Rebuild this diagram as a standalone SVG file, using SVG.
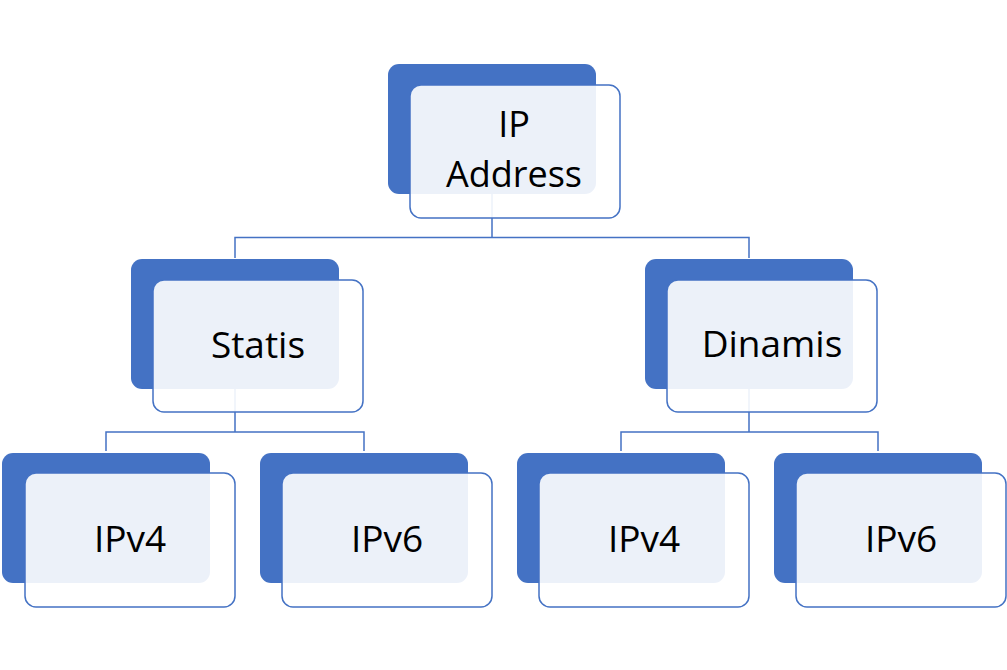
<svg xmlns="http://www.w3.org/2000/svg" width="1007" height="670" viewBox="0 0 1007 670">
<style>
.back{fill:#4472C4;}
.front{fill:#FFFFFF;fill-opacity:0.9;stroke:#4472C4;stroke-width:1.5;}
.lbl{font-family:"Open Sans","Liberation Sans",sans-serif;font-size:37px;fill:#000;text-anchor:middle;}
.lbl2{font-family:"Open Sans","Liberation Sans",sans-serif;font-size:36px;fill:#000;text-anchor:middle;}
.conn{fill:none;stroke:#4472C4;stroke-width:1.5;}
</style>
<rect width="1007" height="670" fill="#FFFFFF"/>
<g id="connectors">
<path class="conn" d="M492,194 V237.5 M235,258 V237.5 H749 V258"/>
<path class="conn" d="M235,388 V432 M106,451 V432 H364 V451"/>
<path class="conn" d="M749,388 V432 M621,451 V432 H878 V451"/>
</g>
<g id="node-ip-address">
<rect class="back" x="388" y="64" width="208" height="130" rx="11"/>
<rect class="front" x="410" y="85" width="210" height="133" rx="11"/>
<text class="lbl2" x="514" y="137">IP</text>
<text class="lbl2" x="514" y="187">Address</text>
</g>
<g id="node-statis">
<rect class="back" x="131" y="259" width="208" height="130" rx="11"/>
<rect class="front" x="153" y="280" width="210" height="132" rx="11"/>
<text class="lbl" x="258" y="358">Statis</text>
</g>
<g id="node-dinamis">
<rect class="back" x="645" y="259" width="208" height="130" rx="11"/>
<rect class="front" x="667" y="280" width="210" height="132" rx="11"/>
<text class="lbl" x="772" y="357">Dinamis</text>
</g>
<g id="node-statis-ipv4">
<rect class="back" x="2" y="453" width="208" height="130" rx="11"/>
<rect class="front" x="25" y="473" width="210" height="134" rx="11"/>
<text class="lbl" x="130" y="552">IPv4</text>
</g>
<g id="node-statis-ipv6">
<rect class="back" x="260" y="453" width="208" height="130" rx="11"/>
<rect class="front" x="282" y="473" width="210" height="134" rx="11"/>
<text class="lbl" x="387" y="552">IPv6</text>
</g>
<g id="node-dinamis-ipv4">
<rect class="back" x="517" y="453" width="208" height="130" rx="11"/>
<rect class="front" x="539" y="473" width="210" height="134" rx="11"/>
<text class="lbl" x="644" y="552">IPv4</text>
</g>
<g id="node-dinamis-ipv6">
<rect class="back" x="774" y="453" width="208" height="130" rx="11"/>
<rect class="front" x="796" y="473" width="210" height="134" rx="11"/>
<text class="lbl" x="901" y="552">IPv6</text>
</g>
</svg>
